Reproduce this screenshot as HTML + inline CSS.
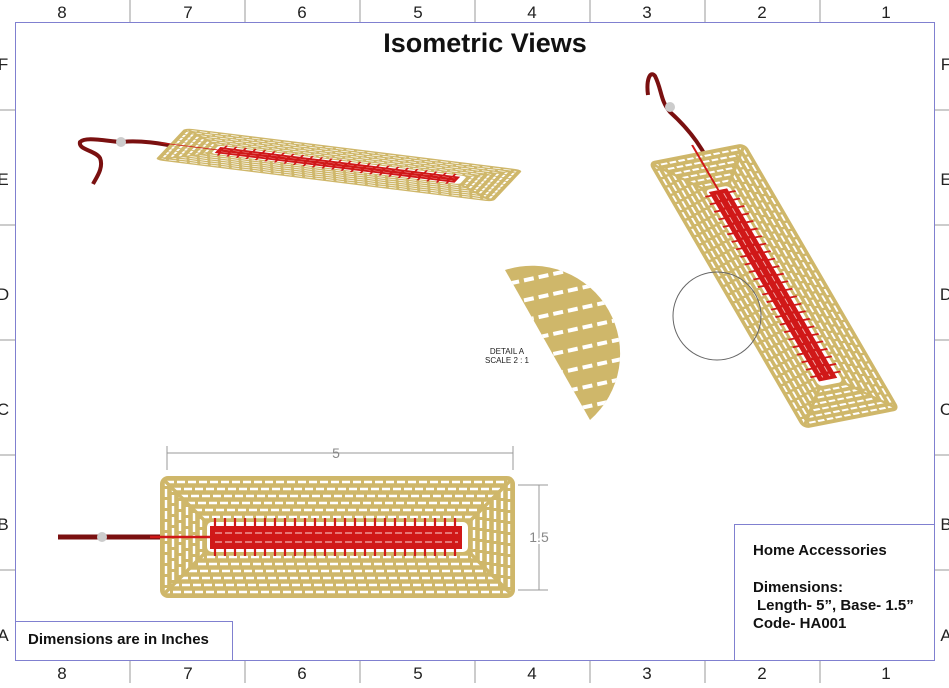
<!DOCTYPE html>
<html><head><style>
body{margin:0;background:#fff;width:949px;height:683px;overflow:hidden}
text{font-family:"Liberation Sans",sans-serif}
</style></head><body>
<svg width="949" height="683" viewBox="0 0 949 683" xmlns="http://www.w3.org/2000/svg">
<defs>
<g id="bm">
  <rect x="0" y="0" width="355" height="122" rx="8" fill="#cfb76a"/>
  <g fill="none" stroke="#fff" stroke-width="2.4" stroke-dasharray="8 3">
    <rect x="6" y="6" width="343" height="110"/>
    <rect x="13" y="13" width="329" height="96"/>
    <rect x="20" y="20" width="315" height="82"/>
    <rect x="27" y="27" width="301" height="68"/>
    <rect x="34" y="34" width="287" height="54"/>
    <rect x="41" y="41" width="273" height="40"/>
  </g>
  <g stroke="#cfb76a" stroke-width="3.5">
    <line x1="3" y1="3" x2="48" y2="48"/><line x1="352" y1="3" x2="307" y2="48"/>
    <line x1="3" y1="119" x2="48" y2="74"/><line x1="352" y1="119" x2="307" y2="74"/>
  </g>
  <rect x="47" y="46" width="261" height="30" rx="5" fill="#fff"/>
  <g stroke="#d01818" stroke-width="2.2">
    <path d="M55 42V80M65 42V80M75 42V80M85 42V80M95 42V80M105 42V80M115 42V80M125 42V80M135 42V80M145 42V80M155 42V80M165 42V80M175 42V80M185 42V80M195 42V80M205 42V80M215 42V80M225 42V80M235 42V80M245 42V80M255 42V80M265 42V80M275 42V80M285 42V80M295 42V80"/>
  </g>
  <rect x="50" y="50" width="252" height="23" fill="#d01818"/>
  <g stroke="#f3b0b0" stroke-width="1.2" stroke-dasharray="7 3" fill="none">
    <line x1="55" y1="57" x2="298" y2="57"/><line x1="55" y1="66" x2="298" y2="66"/>
  </g>
  <line x1="-10" y1="61" x2="50" y2="61" stroke="#d01818" stroke-width="2.5"/>
</g>
<clipPath id="dc"><path d="M505 270 A88 88 0 0 1 590 420 Z"/></clipPath>
</defs>

<rect x="15.5" y="22.5" width="919" height="638" fill="none" stroke="#8080d0" stroke-width="1"/>
<g stroke="#999" stroke-width="1">
  <path d="M130 0V22M245 0V22M360 0V22M475 0V22M590 0V22M705 0V22M820 0V22"/>
  <path d="M130 661V683M245 661V683M360 661V683M475 661V683M590 661V683M705 661V683M820 661V683"/>
  <path d="M0 110H15M0 225H15M0 340H15M0 455H15M0 570H15"/>
  <path d="M935 110H949M935 225H949M935 340H949M935 455H949M935 570H949"/>
</g>
<g font-size="17" fill="#222" text-anchor="middle">
  <text x="62" y="18">8</text><text x="188" y="18">7</text><text x="302" y="18">6</text><text x="418" y="18">5</text><text x="532" y="18">4</text><text x="647" y="18">3</text><text x="762" y="18">2</text><text x="886" y="18">1</text>
  <text x="62" y="679">8</text><text x="188" y="679">7</text><text x="302" y="679">6</text><text x="418" y="679">5</text><text x="532" y="679">4</text><text x="647" y="679">3</text><text x="762" y="679">2</text><text x="886" y="679">1</text>
  <text x="3" y="70">F</text><text x="3" y="185">E</text><text x="3" y="300">D</text><text x="3" y="415">C</text><text x="3" y="530">B</text><text x="3" y="641">A</text>
  <text x="946" y="70">F</text><text x="946" y="185">E</text><text x="946" y="300">D</text><text x="946" y="415">C</text><text x="946" y="530">B</text><text x="946" y="641">A</text>
</g>
<text x="485" y="52" font-size="27" font-weight="bold" text-anchor="middle" fill="#111">Isometric Views</text>

<!-- top iso -->
<path d="M183 148 C160 143 140 140 120 142 C100 140 85 137 80 142 C78 150 95 150 100 158 C104 168 96 178 93 184" fill="none" stroke="#7a1010" stroke-width="4"/>
<circle cx="121" cy="142" r="5" fill="#ccc"/>
<g transform="matrix(0.952 0.118 -0.246 0.262 185 128)"><use href="#bm"/></g>

<!-- right iso -->
<path d="M716 178 C705 150 690 130 670 112 C660 100 662 90 655 76 C650 70 646 80 648 95" fill="none" stroke="#7a1010" stroke-width="4"/>
<circle cx="670" cy="107" r="5" fill="#ccc"/>
<g transform="matrix(0.437 0.752 -0.795 0.156 745 143)"><use href="#bm"/></g>
<circle cx="717" cy="316" r="44" fill="none" stroke="#666" stroke-width="1"/>

<!-- detail A -->
<g clip-path="url(#dc)">
  <rect x="490" y="260" width="160" height="170" fill="#cfb76a"/>
  <g stroke="#fff" stroke-width="4" stroke-dasharray="10 5">
    <path d="M480 290L640 255M480 310L640 275M480 330L640 295M480 350L640 315M480 370L640 335M480 390L640 355M480 410L640 375M480 430L640 395M480 450L640 415"/>
  </g>
</g>
<text x="507" y="354" font-size="8" text-anchor="middle" fill="#222">DETAIL A</text>
<text x="507" y="363" font-size="8" text-anchor="middle" fill="#222">SCALE 2 : 1</text>

<!-- bottom view -->
<path d="M58 537 H160" stroke="#7a1010" stroke-width="5"/>
<circle cx="102" cy="537" r="5" fill="#ccc"/>
<g transform="translate(160 476)"><use href="#bm"/></g>
<g stroke="#999" stroke-width="1" fill="none">
  <path d="M167 470V446M513 470V446M167 453H513"/>
  <path d="M518 485H548M518 590H548M539 485V590"/>
</g>
<text x="336" y="458" font-size="14" fill="#888" text-anchor="middle">5</text>
<text x="539" y="542" font-size="14" fill="#888" text-anchor="middle" style="paint-order:stroke" stroke="#fff" stroke-width="4">1.5</text>

<rect x="15.5" y="621.5" width="217" height="39" fill="none" stroke="#8080d0"/>
<text x="28" y="644" font-size="15" font-weight="bold" fill="#111">Dimensions are in Inches</text>
<rect x="734.5" y="524.5" width="200" height="136" fill="none" stroke="#8080d0"/>
<g font-size="15" font-weight="bold" fill="#111">
<text x="753" y="555">Home Accessories</text>
<text x="753" y="592">Dimensions:</text>
<text x="757" y="610">Length- 5”, Base- 1.5”</text>
<text x="753" y="628">Code- HA001</text>
</g>
</svg>
</body></html>
